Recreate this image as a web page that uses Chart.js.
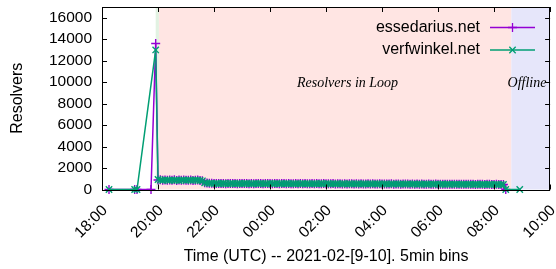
<!DOCTYPE html>
<html lang="en">
<head>
    <meta charset="UTF-8">
    <title>Resolvers</title>
    <script src="https://cdn.jsdelivr.net/npm/chart.js"></script>
    <style>
        html, body {
            margin: 0;
            padding: 0;
            background: #ffffff;
        }
        #wrap {
            width: 556px;
            height: 269px;
            position: relative;
        }
    </style>
</head>
<body>
<div id="wrap"><canvas id="chart"></canvas></div>
<script>
    // x axis ticks (UTC, 2021-02-09 -> 2021-02-10)
    const xTickLabels = ['18:00', '20:00', '22:00', '00:00', '02:00', '04:00', '06:00', '08:00', '10:00'];
    const yTicks = [0, 2000, 4000, 6000, 8000, 10000, 12000, 14000, 16000];

    // sparse points before the loop started
    const essedariusHeadTimes = ['18:15', '19:10', '19:15', '19:45', '19:55'];
    const essedariusHead = [0, 0, 0, 0, 13600];
    const verfwinkelHeadTimes = ['18:15', '19:10', '19:15', '19:55'];
    const verfwinkelHead = [0, 0, 0, 13000];

    // 5 min bins from 20:00 to 08:20
    const bandStart = '20:00';
    const essedariusBand = [
        880, 900, 870, 890, 860, 880, 870, 900, 850, 880, 860, 890,
        870, 860, 880, 850, 870, 880, 850, 820, 640, 600, 580, 590,
        560, 550, 570, 550, 560, 540, 550, 570, 550, 560, 540, 550,
        550, 570, 550, 540, 560, 540, 550, 560, 550, 540, 550, 560,
        550, 530, 560, 550, 540, 560, 550, 540, 560, 540, 530, 550,
        540, 550, 540, 550, 530, 540, 550, 530, 550, 530, 540, 550,
        530, 540, 530, 550, 520, 540, 530, 520, 540, 520, 530, 540,
        520, 530, 520, 530, 510, 520, 530, 510, 530, 520, 510, 530,
        520, 510, 520, 510, 530, 500, 520, 510, 500, 520, 510, 510,
        500, 510, 500, 510, 490, 510, 500, 500, 510, 490, 500, 510,
        490, 500, 490, 500, 480, 490, 500, 490, 480, 490, 500, 480,
        480, 490, 480, 490, 470, 480, 490, 480, 470, 480, 480, 470,
        470, 480, 470, 460, 470
    ];
    const verfwinkelBand = [
        930, 880, 860, 900, 870, 850, 890, 860, 880, 840, 870, 900,
        860, 880, 850, 870, 890, 860, 840, 810, 630, 590, 570, 580,
        550, 570, 540, 560, 580, 550, 530, 560, 570, 540, 550, 560,
        540, 560, 570, 550, 530, 550, 560, 540, 570, 550, 530, 550,
        560, 540, 550, 570, 530, 550, 540, 560, 550, 530, 550, 540,
        550, 530, 560, 540, 550, 520, 540, 550, 530, 540, 560, 530,
        540, 550, 520, 540, 530, 550, 520, 540, 530, 510, 540, 520,
        530, 520, 540, 510, 530, 520, 510, 530, 520, 540, 510, 520,
        510, 530, 520, 500, 520, 510, 530, 500, 520, 510, 500, 520,
        510, 500, 520, 490, 510, 500, 510, 490, 500, 520, 490, 500,
        500, 490, 510, 480, 500, 490, 500, 480, 490, 500, 480, 490,
        490, 480, 500, 470, 490, 480, 470, 490, 480, 470, 490, 470,
        480, 470, 460, 480, 470
    ];

    // after the loop stopped
    const essedariusTailTimes = ['08:25'];
    const essedariusTail = [0];
    const verfwinkelTailTimes = ['08:25', '08:55'];
    const verfwinkelTail = [0, 0];

    // shaded periods
    const periodStarts = ['19:55', '20:02', '08:37'];
    const periodEnds = ['20:02', '08:37', '10:00'];
    const periodNames = ['', 'Resolvers in Loop', 'Offline'];

    const FONT = "'Liberation Sans', Arial, sans-serif";

    // minutes since 18:00 on the 9th
    function toMin(t) {
        const p = t.split(':');
        let h = parseInt(p[0], 10);
        if (h < 18) h += 24;
        return (h - 18) * 60 + parseInt(p[1], 10);
    }

    function buildSeries(headT, head, band, tailT, tail) {
        const pts = [];
        headT.forEach((t, i) => pts.push({ x: toMin(t), y: head[i] }));
        const s = toMin(bandStart);
        band.forEach((v, i) => pts.push({ x: s + i * 5, y: v }));
        tailT.forEach((t, i) => pts.push({ x: toMin(t), y: tail[i] }));
        return pts;
    }

    const purple = '#9400d3';
    const green = '#009e73';

    const gnuplotLook = {
        id: 'gnuplotLook',
        beforeDatasetsDraw(chart) {
            const { ctx, chartArea: a, scales: { x } } = chart;
            const fills = ['#e2f2e2', '#ffe5e3', '#e6e6fa'];
            ctx.save();
            periodStarts.forEach((s, i) => {
                const x0 = x.getPixelForValue(toMin(s));
                const x1 = x.getPixelForValue(toMin(periodEnds[i]));
                ctx.fillStyle = fills[i];
                ctx.fillRect(x0, a.top, x1 - x0, a.bottom - a.top);
            });
            // period labels
            ctx.fillStyle = '#000';
            ctx.font = "italic 14px 'Liberation Serif', 'Times New Roman', serif";
            ctx.textAlign = 'center';
            ctx.textBaseline = 'middle';
            ctx.fillText(periodNames[1], 347.5, 83);
            ctx.fillText(periodNames[2], 527, 83);
            ctx.restore();
        },
        afterDatasetsDraw(chart) {
            const { ctx, chartArea: a, scales: { x, y } } = chart;
            ctx.save();
            // border
            ctx.strokeStyle = '#000';
            ctx.lineWidth = 1;
            ctx.strokeRect(Math.round(a.left) + 0.5, Math.round(a.top) + 0.5,
                Math.round(a.right - a.left) - 1, Math.round(a.bottom - a.top));
            // inward ticks
            ctx.beginPath();
            yTicks.forEach(v => {
                const py = Math.round(y.getPixelForValue(v)) + 0.5;
                ctx.moveTo(a.left, py); ctx.lineTo(a.left + 5, py);
                ctx.moveTo(a.right, py); ctx.lineTo(a.right - 5, py);
            });
            xTickLabels.forEach((t, i) => {
                const px = Math.round(x.getPixelForValue(i * 120)) + 0.5;
                ctx.moveTo(px, a.bottom); ctx.lineTo(px, a.bottom - 5);
                ctx.moveTo(px, a.top); ctx.lineTo(px, a.top + 5);
            });
            ctx.stroke();

            // key
            const rows = [
                { label: 'essedarius.net', color: purple, style: 'cross', y: 27.5 },
                { label: 'verfwinkel.net', color: green, style: 'crossRot', y: 50 }
            ];
            ctx.font = '16px ' + FONT;
            ctx.textAlign = 'right';
            ctx.textBaseline = 'middle';
            rows.forEach(r => {
                ctx.fillStyle = '#000';
                ctx.fillText(r.label, 480, r.y);
                ctx.strokeStyle = r.color;
                ctx.lineWidth = 1.5;
                ctx.beginPath();
                ctx.moveTo(490, r.y); ctx.lineTo(535, r.y);
                ctx.stroke();
                ctx.lineWidth = 1.3;
                Chart.helpers.drawPoint(ctx, { pointStyle: r.style, radius: 4.5, borderWidth: 1.3 }, 512.5, r.y);
            });
            ctx.restore();
        }
    };

    new Chart(document.getElementById('chart'), {
        type: 'line',
        data: {
            datasets: [
                {
                    label: 'essedarius.net',
                    data: buildSeries(essedariusHeadTimes, essedariusHead, essedariusBand, essedariusTailTimes, essedariusTail),
                    borderColor: purple,
                    backgroundColor: purple,
                    borderWidth: 1.5,
                    pointStyle: 'cross',
                    pointRadius: 4.5,
                    pointBorderWidth: 1.4,
                    pointBorderColor: purple,
                    tension: 0,
                    clip: false,
                    order: 1
                },
                {
                    label: 'verfwinkel.net',
                    data: buildSeries(verfwinkelHeadTimes, verfwinkelHead, verfwinkelBand, verfwinkelTailTimes, verfwinkelTail),
                    borderColor: green,
                    backgroundColor: green,
                    borderWidth: 1.5,
                    pointStyle: 'crossRot',
                    pointRadius: 4.5,
                    pointBorderWidth: 1.4,
                    pointBorderColor: green,
                    tension: 0,
                    clip: false,
                    order: 0
                }
            ]
        },
        options: {
            responsive: true,
            maintainAspectRatio: false,
            animation: false,
            layout: { padding: { left: 0, right: 4, top: 7, bottom: 0 } },
            plugins: {
                legend: { display: false },
                tooltip: { enabled: false }
            },
            scales: {
                x: {
                    type: 'linear',
                    min: 0,
                    max: 960,
                    grid: { display: false, drawTicks: false },
                    border: { display: false },
                    afterBuildTicks(scale) {
                        scale.ticks = xTickLabels.map((t, i) => ({ value: i * 120 }));
                    },
                    afterFit(scale) {
                        scale.height = 79.5;
                        scale.paddingLeft = 0;
                        scale.paddingRight = 0;
                    },
                    ticks: {
                        autoSkip: false,
                        maxRotation: 45,
                        minRotation: 45,
                        padding: 12,
                        labelOffset: 3,
                        color: '#000',
                        font: { family: FONT, size: 15.5 },
                        callback: (v, i) => xTickLabels[i]
                    },
                    title: {
                        display: true,
                        text: 'Time (UTC) -- 2021-02-[9-10]. 5min bins',
                        color: '#000',
                        font: { family: FONT, size: 16 },
                        padding: { top: 0, bottom: 2.5 }
                    }
                },
                y: {
                    min: 0,
                    max: 17000,
                    grid: { display: false, drawTicks: false },
                    border: { display: false },
                    afterBuildTicks(scale) {
                        scale.ticks = yTicks.map(v => ({ value: v }));
                    },
                    afterFit(scale) {
                        scale.width = 102;
                        scale.paddingTop = 0;
                        scale.paddingBottom = 0;
                    },
                    ticks: {
                        autoSkip: false,
                        padding: 10,
                        color: '#000',
                        font: { family: FONT, size: 15.5 },
                        callback: v => String(v)
                    },
                    title: {
                        display: true,
                        text: 'Resolvers',
                        color: '#000',
                        font: { family: FONT, size: 16 },
                        padding: { top: 8.4, bottom: 0 }
                    }
                }
            }
        },
        plugins: [gnuplotLook]
    });
</script>
</body>
</html>
